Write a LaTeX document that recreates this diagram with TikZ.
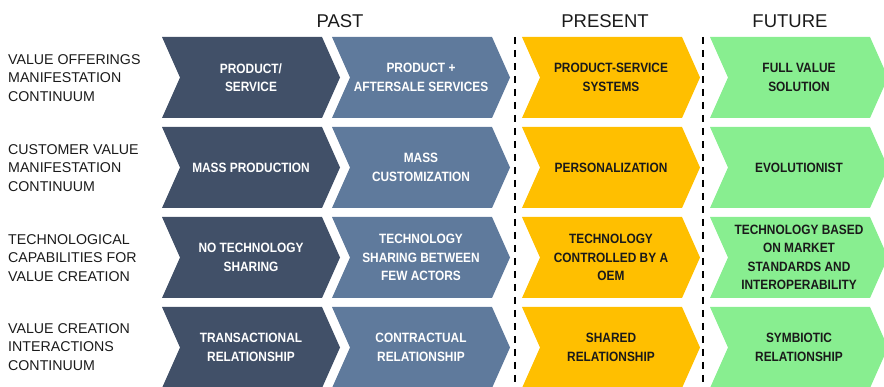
\documentclass[tikz,border=0pt]{standalone}
\usepackage{fontspec}
\setmainfont{Liberation Sans}
\newfontfamily\chevfont[FakeStretch=0.88]{Liberation Sans Bold}
\definecolor{cdark}{HTML}{415068}
\definecolor{cmid}{HTML}{5F7A9C}
\definecolor{camber}{HTML}{FFBF00}
\definecolor{cgreen}{HTML}{88EE90}
\definecolor{ctext}{HTML}{1A1A1A}
\tikzset{
  chevtext/.style={align=center, font=\chevfont\fontsize{13.5}{18.5}\selectfont, inner sep=0pt},
  rowlabel/.style={align=left, anchor=west, font=\fontsize{14.2}{18.5}\selectfont, text=ctext, inner sep=0pt},
  header/.style={font=\fontsize{18.5}{20}\selectfont, text=ctext, inner sep=0pt},
  divider/.style={line width=2.4pt, dash pattern=on 7pt off 6pt, black}
}
% #1 left x, #2 top y, #3 fill colour, #4 node name, #5 text colour, #6 text
\newcommand\mychev[6]{%
  \fill[#3] (#1,#2) -- ++(160,0) -- ++(18,40.5) -- ++(-18,40.5) -- ++(-160,0) -- ++(18,-40.5) -- cycle;
  \node[chevtext, text=#5] (#4) at ({#1+89},{#2+40.5}) {#6};
}
\begin{document}
\begin{tikzpicture}[x=1pt,y=-1pt]
\useasboundingbox (0,0) rectangle (884,387);
% headers
\node[header] (hpast) at (340,21) {PAST};
\node[header] (hpresent) at (605,21) {PRESENT};
\node[header] (hfuture) at (790,21) {FUTURE};
% row labels
\node[rowlabel] (l1) at (8,78) {VALUE OFFERINGS\\MANIFESTATION\\CONTINUUM};
\node[rowlabel] (l2) at (8,168) {CUSTOMER VALUE\\MANIFESTATION\\CONTINUUM};
\node[rowlabel] (l3) at (8,258) {TECHNOLOGICAL\\CAPABILITIES FOR\\VALUE CREATION};
\node[rowlabel] (l4) at (8,347) {VALUE CREATION\\INTERACTIONS\\CONTINUUM};
% row 1
\mychev{162}{37}{cdark}{a1}{white}{PRODUCT/\\SERVICE}
\mychev{332}{37}{cmid}{b1}{white}{PRODUCT +\\AFTERSALE SERVICES}
\mychev{522}{37}{camber}{c1}{ctext}{PRODUCT-SERVICE\\SYSTEMS}
\mychev{710}{37}{cgreen}{d1}{ctext}{FULL VALUE\\SOLUTION}
% row 2
\mychev{162}{127}{cdark}{a2}{white}{MASS PRODUCTION}
\mychev{332}{127}{cmid}{b2}{white}{MASS\\CUSTOMIZATION}
\mychev{522}{127}{camber}{c2}{ctext}{PERSONALIZATION}
\mychev{710}{127}{cgreen}{d2}{ctext}{EVOLUTIONIST}
% row 3
\mychev{162}{217}{cdark}{a3}{white}{NO TECHNOLOGY\\SHARING}
\mychev{332}{217}{cmid}{b3}{white}{TECHNOLOGY\\SHARING BETWEEN\\FEW ACTORS}
\mychev{522}{217}{camber}{c3}{ctext}{TECHNOLOGY\\CONTROLLED BY A\\OEM}
\mychev{710}{217}{cgreen}{d3}{ctext}{TECHNOLOGY BASED\\ON MARKET\\STANDARDS AND\\INTEROPERABILITY}
% row 4
\mychev{162}{307}{cdark}{a4}{white}{TRANSACTIONAL\\RELATIONSHIP}
\mychev{332}{307}{cmid}{b4}{white}{CONTRACTUAL\\RELATIONSHIP}
\mychev{522}{307}{camber}{c4}{ctext}{SHARED\\RELATIONSHIP}
\mychev{710}{307}{cgreen}{d4}{ctext}{SYMBIOTIC\\RELATIONSHIP}
% dividers
\coordinate (p1t) at (515,37);
\coordinate (p1b) at (515,387);
\coordinate (p2t) at (703,37);
\coordinate (p2b) at (703,387);
\draw[divider] (p1t) -- (p1b);
\draw[divider] (p2t) -- (p2b);
\end{tikzpicture}
\end{document}
